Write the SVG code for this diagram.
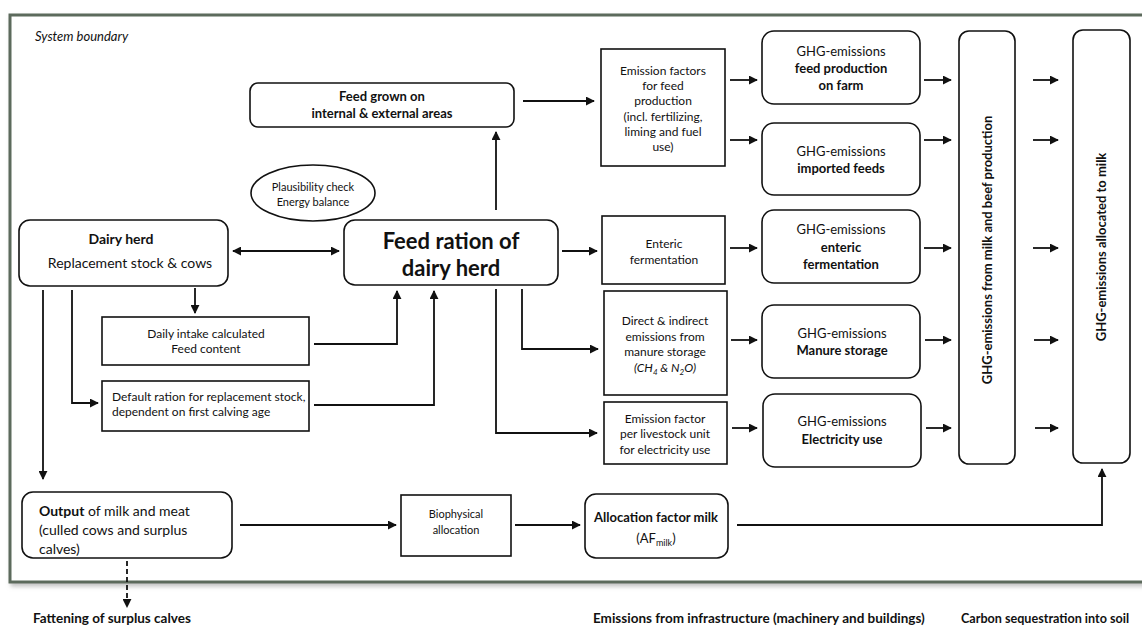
<svg xmlns="http://www.w3.org/2000/svg" width="1142" height="629" viewBox="0 0 1142 629">
<style>
text{font-family:Lato,"Liberation Sans",sans-serif;fill:#111}
.box{fill:#fff;stroke:#111;stroke-width:1.6}
.c{stroke:#111;stroke-width:1.8;fill:none}
.t11{font-size:11px}
.t12{font-size:12px}
.t13{font-size:13px}
.t14{font-size:14px}
.b{font-weight:bold}
.m{text-anchor:middle}
</style>
<defs>
<marker id="ah" viewBox="0 0 10 10" refX="9" refY="5" markerWidth="9" markerHeight="9" markerUnits="userSpaceOnUse" orient="auto-start-reverse">
<path d="M0,0 L10,5 L0,10 z" fill="#111"/>
</marker>
<filter id="sh" x="-5%" y="-5%" width="110%" height="110%">
<feDropShadow dx="2" dy="3" stdDeviation="2" flood-color="#999" flood-opacity="0.6"/>
</filter>
</defs>
<rect width="1142" height="629" fill="#fff"/>
<g id="boundary">
<rect x="10" y="15" width="1150" height="567" fill="#fff" stroke="#5b6b5b" stroke-width="3" filter="url(#sh)"/>
<text x="35" y="41" class="t13" font-style="italic">System boundary</text>
</g>
<g id="connectors">
<path class="c" d="M523,101 H594" marker-end="url(#ah)"/>
<path class="c" d="M730,80 H757" marker-end="url(#ah)"/>
<path class="c" d="M730,140 H757" marker-end="url(#ah)"/>
<path class="c" d="M924,80 H951" marker-end="url(#ah)"/>
<path class="c" d="M924,140 H951" marker-end="url(#ah)"/>
<path class="c" d="M924,248 H951" marker-end="url(#ah)"/>
<path class="c" d="M925,340 H951" marker-end="url(#ah)"/>
<path class="c" d="M926,428 H951" marker-end="url(#ah)"/>
<path class="c" d="M1033,80 H1058" marker-end="url(#ah)"/>
<path class="c" d="M1033,140 H1058" marker-end="url(#ah)"/>
<path class="c" d="M1033,248 H1058" marker-end="url(#ah)"/>
<path class="c" d="M1034,340 H1058" marker-end="url(#ah)"/>
<path class="c" d="M1035,428 H1058" marker-end="url(#ah)"/>
<path class="c" d="M730,248 H757" marker-end="url(#ah)"/>
<path class="c" d="M731,340 H757" marker-end="url(#ah)"/>
<path class="c" d="M732,428 H757" marker-end="url(#ah)"/>
<path class="c" d="M562,251 H597" marker-end="url(#ah)"/>
<path class="c" d="M522,289 V349 H598" marker-end="url(#ah)"/>
<path class="c" d="M496,289 V433 H597" marker-end="url(#ah)"/>
<path class="c" d="M496,210 V132" marker-end="url(#ah)"/>
<path class="c" d="M233,251 H339" marker-start="url(#ah)" marker-end="url(#ah)"/>
<path class="c" d="M195,288 V313" marker-end="url(#ah)"/>
<path class="c" d="M314,344 H397 V291" marker-end="url(#ah)"/>
<path class="c" d="M314,405 H434 V291" marker-end="url(#ah)"/>
<path class="c" d="M72,290 V403 H98" marker-end="url(#ah)"/>
<path class="c" d="M43,290 V479" marker-end="url(#ah)"/>
<path class="c" d="M240,525 H396" marker-end="url(#ah)"/>
<path class="c" d="M515,525 H580" marker-end="url(#ah)"/>
<path class="c" d="M737,525 H1102 V469" marker-end="url(#ah)"/>
<path class="c" d="M127,561 V607" stroke-dasharray="5,3" marker-end="url(#ah)"/>
</g>
<g id="feed-grown">
<rect class="box" x="250" y="83" width="264" height="44" rx="8"/>
<text class="t13 b m" x="382" y="101">Feed grown on</text>
<text class="t13 b m" x="382" y="118">internal &amp; external areas</text>
</g>
<g id="emission-factors-feed">
<rect class="box" x="601" y="49" width="124" height="117"/>
<text class="t12 m" x="663" y="75">Emission factors</text>
<text class="t12 m" x="663" y="90">for feed</text>
<text class="t12 m" x="663" y="105">production</text>
<text class="t12 m" x="663" y="121">(incl. fertilizing,</text>
<text class="t12 m" x="663" y="136">liming and fuel</text>
<text class="t12 m" x="663" y="151">use)</text>
</g>
<g id="ghg-feed-farm">
<rect class="box" x="762" y="31" width="158" height="73" rx="12"/>
<text class="t13 m" x="841" y="56">GHG-emissions</text>
<text class="t13 b m" x="841" y="73">feed production</text>
<text class="t13 b m" x="841" y="90">on farm</text>
</g>
<g id="ghg-imported">
<rect class="box" x="762" y="123" width="158" height="72" rx="12"/>
<text class="t13 m" x="841" y="156">GHG-emissions</text>
<text class="t13 b m" x="841" y="173">imported feeds</text>
</g>
<g id="ghg-milk-beef">
<rect class="box" x="959" y="31" width="56" height="433" rx="10"/>
<text class="t13 b m" transform="translate(992,250) rotate(-90)">GHG-emissions from milk and beef production</text>
</g>
<g id="ghg-allocated">
<rect class="box" x="1073" y="30" width="57" height="433" rx="10"/>
<text class="t13 b m" transform="translate(1106,247) rotate(-90)">GHG-emissions allocated to milk</text>
</g>
<g id="plausibility">
<ellipse cx="313" cy="193" rx="62" ry="28" fill="#fff" stroke="#111" stroke-width="1.6"/>
<text class="t11 m" x="313" y="191">Plausibility check</text>
<text class="t11 m" x="313" y="206">Energy balance</text>
</g>
<g id="dairy-herd">
<rect class="box" x="19" y="220" width="209" height="66" rx="11"/>
<text class="t14 b m" x="121" y="244">Dairy herd</text>
<text class="t14 m" x="130" y="268">Replacement stock &amp; cows</text>
</g>
<g id="feed-ration">
<rect class="box" x="344" y="220" width="214" height="65" rx="11"/>
<text class="b m" font-size="22" x="451" y="249">Feed ration of</text>
<text class="b m" font-size="22" x="451" y="276">dairy herd</text>
</g>
<g id="daily-intake">
<rect class="box" x="102" y="317" width="207" height="48"/>
<text class="t12 m" x="206" y="338">Daily intake calculated</text>
<text class="t12 m" x="206" y="353">Feed content</text>
</g>
<g id="default-ration">
<rect class="box" x="102" y="381" width="207" height="50"/>
<text class="t12" x="112" y="401">Default ration for replacement stock,</text>
<text class="t12" x="112" y="416">dependent on first calving age</text>
</g>
<g id="enteric">
<rect class="box" x="602" y="216" width="123" height="68"/>
<text class="t12 m" x="664" y="248">Enteric</text>
<text class="t12 m" x="664" y="264">fermentation</text>
</g>
<g id="manure">
<rect class="box" x="604" y="291" width="123" height="104"/>
<text class="t12 m" x="665" y="325">Direct &amp; indirect</text>
<text class="t12 m" x="665" y="341">emissions from</text>
<text class="t12 m" x="665" y="356">manure storage</text>
<text class="t12 m" x="665" y="372" font-style="italic">(CH<tspan font-size="8" dy="3">4</tspan><tspan dy="-3"> &amp; N</tspan><tspan font-size="8" dy="3">2</tspan><tspan dy="-3">O)</tspan></text>
</g>
<g id="electricity-factor">
<rect class="box" x="604" y="402" width="123" height="62"/>
<text class="t12 m" x="665" y="423">Emission factor</text>
<text class="t12 m" x="665" y="438">per livestock unit</text>
<text class="t12 m" x="665" y="454">for electricity use</text>
</g>
<g id="ghg-enteric">
<rect class="box" x="762" y="210" width="158" height="73" rx="12"/>
<text class="t13 m" x="841" y="234">GHG-emissions</text>
<text class="t13 b m" x="841" y="252">enteric</text>
<text class="t13 b m" x="841" y="269">fermentation</text>
</g>
<g id="ghg-manure">
<rect class="box" x="762" y="305" width="158" height="73" rx="12"/>
<text class="t13 m" x="842" y="338">GHG-emissions</text>
<text class="t13 b m" x="842" y="355">Manure storage</text>
</g>
<g id="ghg-electricity">
<rect class="box" x="763" y="394" width="158" height="73" rx="12"/>
<text class="t13 m" x="842" y="426">GHG-emissions</text>
<text class="t13 b m" x="842" y="444">Electricity use</text>
</g>
<g id="output">
<rect class="box" x="22" y="492" width="210" height="66" rx="11"/>
<text class="t14" x="39" y="516"><tspan font-weight="bold">Output</tspan> of milk and meat</text>
<text class="t14" x="39" y="535">(culled cows and surplus</text>
<text class="t14" x="39" y="554">calves)</text>
</g>
<g id="biophysical">
<rect class="box" x="401" y="495" width="110" height="61"/>
<text class="t11 m" x="456" y="518">Biophysical</text>
<text class="t11 m" x="456" y="534">allocation</text>
</g>
<g id="af-milk">
<rect class="box" x="585" y="494" width="143" height="64" rx="11"/>
<text class="t13 b m" x="656" y="522">Allocation factor milk</text>
<text class="t13 m" x="656" y="543">(AF<tspan font-size="9" dy="3">milk</tspan><tspan dy="-3">)</tspan></text>
</g>
<g id="outside-labels">
<text class="b" font-size="13.5" x="33" y="623">Fattening of surplus calves</text>
<text class="b" font-size="13.5" x="593" y="623">Emissions from infrastructure (machinery and buildings)</text>
<text class="b" font-size="12.6" x="961" y="623">Carbon sequestration into soil</text>
</g>
</svg>
